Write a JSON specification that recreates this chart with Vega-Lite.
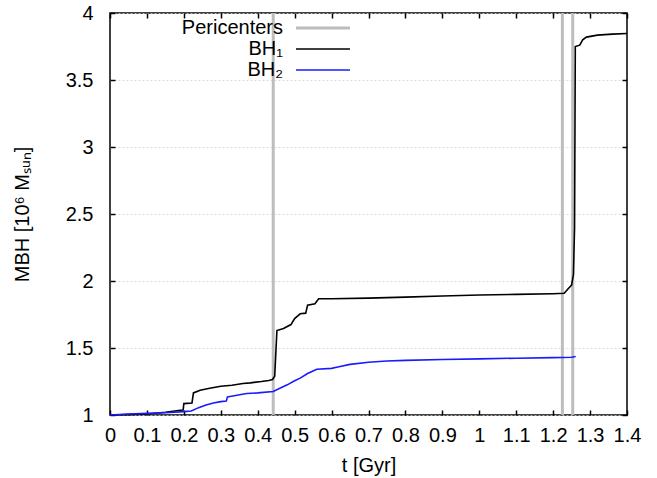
{
  "$schema": "https://vega.github.io/schema/vega-lite/v6.json",
  "autosize": "none",
  "width": 517,
  "height": 402,
  "padding": {"left": 110, "top": 13, "right": 30, "bottom": 63},
  "background": "white",
  "config": {
    "font": "Liberation Sans",
    "view": {"stroke": "#000", "strokeWidth": 1.5},
    "axis": {
      "domain": false,
      "labelFont": "Liberation Sans",
      "titleFont": "Liberation Sans",
      "labelFontSize": 20,
      "titleFontSize": 20,
      "labelColor": "#000",
      "titleColor": "#000",
      "titleFontWeight": "normal",
      "tickColor": "#000",
      "tickWidth": 1.5,
      "tickSize": -5,
      "labelOverlap": false,
      "labelFlush": false,
      "gridColor": "#d0d0d0",
      "gridDash": [2, 2],
      "gridWidth": 0.8
    },
    "legend": {
      "labelFont": "Liberation Sans",
      "labelFontSize": 20,
      "labelColor": "#000"
    }
  },
  "datasets": {
    "bh": [
      {"t": 0, "m": 1.0, "series": "BH₁"},
      {"t": 0.05, "m": 1.003, "series": "BH₁"},
      {"t": 0.1, "m": 1.008, "series": "BH₁"},
      {"t": 0.15, "m": 1.02, "series": "BH₁"},
      {"t": 0.19, "m": 1.035, "series": "BH₁"},
      {"t": 0.198, "m": 1.037, "series": "BH₁"},
      {"t": 0.2, "m": 1.085, "series": "BH₁"},
      {"t": 0.222, "m": 1.09, "series": "BH₁"},
      {"t": 0.226, "m": 1.165, "series": "BH₁"},
      {"t": 0.244, "m": 1.185, "series": "BH₁"},
      {"t": 0.27, "m": 1.2, "series": "BH₁"},
      {"t": 0.3, "m": 1.215, "series": "BH₁"},
      {"t": 0.33, "m": 1.222, "series": "BH₁"},
      {"t": 0.36, "m": 1.235, "series": "BH₁"},
      {"t": 0.38, "m": 1.24, "series": "BH₁"},
      {"t": 0.41, "m": 1.25, "series": "BH₁"},
      {"t": 0.43, "m": 1.258, "series": "BH₁"},
      {"t": 0.44, "m": 1.265, "series": "BH₁"},
      {"t": 0.446, "m": 1.29, "series": "BH₁"},
      {"t": 0.452, "m": 1.63, "series": "BH₁"},
      {"t": 0.47, "m": 1.645, "series": "BH₁"},
      {"t": 0.48, "m": 1.66, "series": "BH₁"},
      {"t": 0.49, "m": 1.675, "series": "BH₁"},
      {"t": 0.5, "m": 1.72, "series": "BH₁"},
      {"t": 0.515, "m": 1.755, "series": "BH₁"},
      {"t": 0.53, "m": 1.76, "series": "BH₁"},
      {"t": 0.535, "m": 1.82, "series": "BH₁"},
      {"t": 0.555, "m": 1.83, "series": "BH₁"},
      {"t": 0.565, "m": 1.867, "series": "BH₁"},
      {"t": 0.6, "m": 1.868, "series": "BH₁"},
      {"t": 0.7, "m": 1.872, "series": "BH₁"},
      {"t": 0.8, "m": 1.88, "series": "BH₁"},
      {"t": 0.9, "m": 1.888, "series": "BH₁"},
      {"t": 1.0, "m": 1.895, "series": "BH₁"},
      {"t": 1.1, "m": 1.9, "series": "BH₁"},
      {"t": 1.2, "m": 1.905, "series": "BH₁"},
      {"t": 1.23, "m": 1.908, "series": "BH₁"},
      {"t": 1.24, "m": 1.94, "series": "BH₁"},
      {"t": 1.25, "m": 1.97, "series": "BH₁"},
      {"t": 1.255, "m": 2.05, "series": "BH₁"},
      {"t": 1.258, "m": 2.4, "series": "BH₁"},
      {"t": 1.26, "m": 3.75, "series": "BH₁"},
      {"t": 1.272, "m": 3.76, "series": "BH₁"},
      {"t": 1.28, "m": 3.8, "series": "BH₁"},
      {"t": 1.29, "m": 3.82, "series": "BH₁"},
      {"t": 1.32, "m": 3.835, "series": "BH₁"},
      {"t": 1.36, "m": 3.842, "series": "BH₁"},
      {"t": 1.4, "m": 3.847, "series": "BH₁"},
      {"t": 0, "m": 1.0, "series": "BH₂"},
      {"t": 0.05, "m": 1.007, "series": "BH₂"},
      {"t": 0.1, "m": 1.012, "series": "BH₂"},
      {"t": 0.15, "m": 1.017, "series": "BH₂"},
      {"t": 0.2, "m": 1.025, "series": "BH₂"},
      {"t": 0.22, "m": 1.03, "series": "BH₂"},
      {"t": 0.24, "m": 1.055, "series": "BH₂"},
      {"t": 0.26, "m": 1.075, "series": "BH₂"},
      {"t": 0.28, "m": 1.09, "series": "BH₂"},
      {"t": 0.3, "m": 1.1, "series": "BH₂"},
      {"t": 0.315, "m": 1.105, "series": "BH₂"},
      {"t": 0.318, "m": 1.135, "series": "BH₂"},
      {"t": 0.34, "m": 1.145, "series": "BH₂"},
      {"t": 0.37, "m": 1.16, "series": "BH₂"},
      {"t": 0.4, "m": 1.165, "series": "BH₂"},
      {"t": 0.442, "m": 1.175, "series": "BH₂"},
      {"t": 0.46, "m": 1.2, "series": "BH₂"},
      {"t": 0.48, "m": 1.225, "series": "BH₂"},
      {"t": 0.5, "m": 1.255, "series": "BH₂"},
      {"t": 0.515, "m": 1.275, "series": "BH₂"},
      {"t": 0.535, "m": 1.31, "series": "BH₂"},
      {"t": 0.56, "m": 1.342, "series": "BH₂"},
      {"t": 0.6, "m": 1.348, "series": "BH₂"},
      {"t": 0.62, "m": 1.36, "series": "BH₂"},
      {"t": 0.65, "m": 1.378, "series": "BH₂"},
      {"t": 0.7, "m": 1.394, "series": "BH₂"},
      {"t": 0.75, "m": 1.403, "series": "BH₂"},
      {"t": 0.8, "m": 1.408, "series": "BH₂"},
      {"t": 0.9, "m": 1.414, "series": "BH₂"},
      {"t": 1.0, "m": 1.419, "series": "BH₂"},
      {"t": 1.1, "m": 1.424, "series": "BH₂"},
      {"t": 1.2, "m": 1.428, "series": "BH₂"},
      {"t": 1.25, "m": 1.431, "series": "BH₂"},
      {"t": 1.261, "m": 1.437, "series": "BH₂"}
    ],
    "peri": [
      {"t": 0.442, "series": "Pericenters"},
      {"t": 1.225, "series": "Pericenters"},
      {"t": 1.253, "series": "Pericenters"}
    ]
  },
  "layer": [
    {
      "data": {"name": "peri"},
      "mark": {"type": "rule", "strokeWidth": 3},
      "encoding": {
        "x": {
          "field": "t", "type": "quantitative",
          "scale": {"domain": [0, 1.4], "nice": false, "zero": false},
          "axis": {"orient": "top", "labels": false, "grid": false, "title": null,
                   "values": [0, 0.1, 0.2, 0.3, 0.4, 0.5, 0.6, 0.7, 0.8, 0.9, 1, 1.1, 1.2, 1.3, 1.4]}
        },
        "color": {
          "field": "series", "type": "nominal",
          "scale": {"domain": ["Pericenters", "BH₁", "BH₂"], "range": ["#bdbdbd", "#000000", "#1a1aff"]},
          "legend": {
            "title": null,
            "orient": "none",
            "legendX": 72,
            "legendY": 5,
            "padding": 0,
            "rowPadding": 1,
            "symbolType": "stroke",
            "symbolSize": 2916,
            "symbolStrokeWidth": 1.5,
            "labelAlign": "right",
            "encode": {
              "symbols": {"update": {
                "x": {"value": 141},
                "strokeWidth": {"signal": "datum.value === 'Pericenters' ? 3 : 1.5"}
              }},
              "labels": {"update": {"x": {"value": 101}, "align": {"value": "right"}}}
            }
          }
        }
      }
    },
    {
      "data": {"name": "bh"},
      "transform": [{"filter": "datum.series === 'BH₁'"}],
      "mark": {"type": "line", "strokeWidth": 1.6},
      "encoding": {
        "x": {
          "field": "t", "type": "quantitative",
          "scale": {"domain": [0, 1.4], "nice": false, "zero": false},
          "axis": {"orient": "bottom", "title": "t [Gyr]", "format": "~g", "labelPadding": 15, "titlePadding": 10,
                   "values": [0, 0.1, 0.2, 0.3, 0.4, 0.5, 0.6, 0.7, 0.8, 0.9, 1, 1.1, 1.2, 1.3, 1.4]}
        },
        "y": {
          "field": "m", "type": "quantitative",
          "scale": {"domain": [1, 4], "nice": false, "zero": false},
          "axis": {"orient": "left", "title": "MBH [10⁶ Mₛᵤₙ]", "format": "~g", "labelPadding": 22, "titlePadding": 33,
                   "values": [1, 1.5, 2, 2.5, 3, 3.5, 4]}
        },
        "color": {"field": "series", "type": "nominal"}
      }
    },
    {
      "data": {"name": "bh"},
      "transform": [{"filter": "datum.series === 'BH₂'"}],
      "mark": {"type": "line", "strokeWidth": 1.6},
      "encoding": {
        "x": {"field": "t", "type": "quantitative", "scale": {"domain": [0, 1.4], "nice": false, "zero": false}, "axis": null},
        "y": {
          "field": "m", "type": "quantitative",
          "scale": {"domain": [1, 4], "nice": false, "zero": false},
          "axis": {"orient": "right", "labels": false, "grid": false, "title": null,
                   "values": [1, 1.5, 2, 2.5, 3, 3.5, 4]}
        },
        "color": {"field": "series", "type": "nominal"}
      }
    }
  ],
  "resolve": {"axis": {"x": "independent", "y": "independent"}}
}
